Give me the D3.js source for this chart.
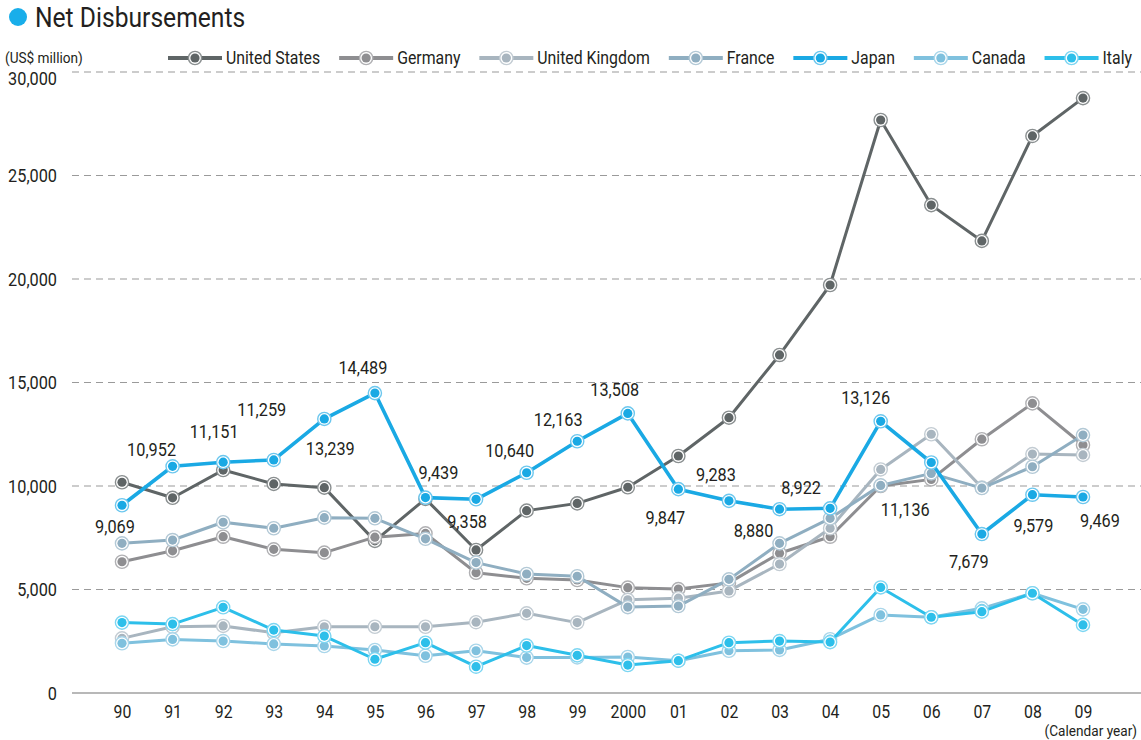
<!DOCTYPE html>
<html>
<head>
<meta charset="utf-8">
<script src="https://cdn.jsdelivr.net/npm/d3@7"></script>
<style>
  body { margin: 0; background: #fff; }
  svg text { font-family: Roboto, "Noto Sans", sans-serif; fill: #231f20; }
</style>
</head>
<body>
<div id="chart"></div>
<script>
// data (US$ million)
var years = ["90", "91", "92", "93", "94", "95", "96", "97", "98", "99", "2000", "01", "02", "03", "04", "05", "06", "07", "08", "09"];
var unitedStates = [10180, 9430, 10770, 10100, 9920, 7350, 9380, 6910, 8810, 9160, 9940, 11450, 13300, 16330, 19710, 27680, 23570, 21840, 26910, 28740];
var germany = [6340, 6870, 7550, 6940, 6780, 7530, 7710, 5810, 5540, 5460, 5090, 5020, 5320, 6750, 7550, 10000, 10320, 12260, 13990, 11980];
var unitedKingdom = [2640, 3200, 3240, 2910, 3200, 3200, 3200, 3420, 3850, 3400, 4500, 4580, 4930, 6230, 7960, 10800, 12500, 9920, 11540, 11500];
var france = [7230, 7390, 8250, 7960, 8470, 8440, 7450, 6300, 5750, 5640, 4150, 4200, 5490, 7230, 8440, 10030, 10610, 9900, 10930, 12460];
var japan = [9069, 10952, 11151, 11259, 13239, 14489, 9439, 9358, 10640, 12163, 13508, 9847, 9283, 8880, 8922, 13126, 11136, 7679, 9579, 9469];
var canada = [2400, 2590, 2510, 2370, 2270, 2080, 1800, 2040, 1710, 1720, 1740, 1560, 2040, 2080, 2600, 3770, 3660, 4090, 4820, 4040];
var italy = [3400, 3330, 4140, 3040, 2750, 1630, 2430, 1270, 2290, 1820, 1350, 1560, 2430, 2510, 2460, 5100, 3660, 3930, 4820, 3290];
var yTicks = [0, 5000, 10000, 15000, 20000, 25000, 30000];

var series = [
    { name: "United States", values: unitedStates, color: "#5f6566", ring: "#8a8f90" },
    { name: "Germany", values: germany, color: "#8e8e91", ring: "#b0b0b3" },
    { name: "United Kingdom", values: unitedKingdom, color: "#a8b5bf", ring: "#c3ccd3" },
    { name: "France", values: france, color: "#8faec1", ring: "#b3c9d6" },
    { name: "Canada", values: canada, color: "#7fc1de", ring: "#a9d6ea" },
    { name: "Italy", values: italy, color: "#2dbfea", ring: "#7dd6f2" },
    { name: "Japan", values: japan, color: "#1aa9e4", ring: "#6cc7ee" }
];
var legendOrder = ["United States", "Germany", "United Kingdom", "France", "Japan", "Canada", "Italy"];

// where each Japan label sits relative to its point
var labelDx = [-7, -21, -9, -12, 6, -12, 13, -9, -17, -19, -13, -13, -13, -26, -29, -15, -26, -13, 1, 17];
var labelDy = [21, -17, -31, -50, 30, -26, -25, 22, -22, -22, -24, 28, -26, 21, -21, -24, 47, 27, 31, 24];

var width = 1141;
var height = 740;
var squeeze = 0.88; // the reference uses a condensed face

var svg = d3.select('#chart')
    .append('svg')
    .attr('width', width)
    .attr('height', height);

var x = d3.scalePoint()
    .domain(years)
    .range([122, 1083]);
var y = d3.scaleLinear()
    .domain([0, 30000])
    .range([693, 72]);

// title
svg.append('circle')
    .attr('cx', 18).attr('cy', 17).attr('r', 9)
    .attr('fill', '#19aeea');
svg.append('text')
    .attr('x', 35).attr('y', 27)
    .style('font-size', '28px')
    .text('Net Disbursements');

svg.append('text')
    .attr('x', 5).attr('y', 58)
    .attr('dy', '0.35em')
    .style('font-size', '15.5px')
    .text('(US$ million)');

// grid
var grid = svg.append('g');
grid.selectAll('line')
    .data(yTicks.filter(d => d > 0))
    .enter()
    .append('line')
    .attr('x1', 72).attr('x2', width)
    .attr('y1', d => y(d)).attr('y2', d => y(d))
    .attr('stroke', '#9a9a9a')
    .attr('stroke-width', 1.2)
    .attr('stroke-dasharray', '7,5');

var yAxis = d3.axisLeft(y)
    .tickValues(yTicks)
    .tickSize(0)
    .tickPadding(0)
    .tickFormat(d3.format(','));
var gY = svg.append('g')
    .attr('transform', 'translate(57,0)')
    .call(yAxis);
gY.select('.domain').remove();
gY.selectAll('text')
    .style('font-size', '18.5px')
    .attr('dy', d => d == 30000 ? '0.7em' : '0.35em');

var xAxis = d3.axisBottom(x).tickSize(0).tickPadding(0);
var gX = svg.append('g')
    .attr('transform', 'translate(0,' + y(0) + ')')
    .call(xAxis);
gX.select('.domain').remove();
gX.selectAll('text')
    .style('font-size', '18px')
    .attr('y', 25)
    .attr('dy', 0);
svg.append('line')
    .attr('x1', 72).attr('x2', width)
    .attr('y1', y(0)).attr('y2', y(0))
    .attr('stroke', '#a0a0a0')
    .attr('stroke-width', 1.5);

svg.append('text')
    .attr('x', 1137).attr('y', 736)
    .attr('text-anchor', 'end')
    .style('font-size', '15.5px')
    .text('(Calendar year)');

// lines + markers
var line = d3.line()
    .x((d, i) => x(years[i]))
    .y(d => y(d));

function marker(g, cx, cy, s) {
    g.append('circle')
        .attr('cx', cx).attr('cy', cy).attr('r', 6.6)
        .attr('fill', '#fff')
        .attr('stroke', s.ring)
        .attr('stroke-width', 1.4);
    g.append('circle')
        .attr('cx', cx).attr('cy', cy).attr('r', 4.6)
        .attr('fill', s.color);
}

series.forEach(function (s) {
    var g = svg.append('g');
    g.append('path')
        .datum(s.values)
        .attr('d', line)
        .attr('fill', 'none')
        .attr('stroke', s.color)
        .attr('stroke-width', s.name == 'Japan' ? 3.6 : 3)
        .attr('stroke-linejoin', 'round');
    s.values.forEach(function (v, i) {
        marker(g, x(years[i]), y(v), s);
    });
});

// Japan value labels
svg.append('g')
    .selectAll('text')
    .data(japan)
    .enter()
    .append('text')
    .attr('x', (d, i) => x(years[i]) + labelDx[i])
    .attr('y', (d, i) => y(d) + labelDy[i])
    .attr('dy', '0.35em')
    .attr('text-anchor', 'middle')
    .style('font-size', '18.5px')
    .text(d => d3.format(',')(d));

// legend
var legend = svg.append('g');
var items = legendOrder.map(n => series.find(s => s.name == n));
var widths = [];
items.forEach(function (s) {
    var t = legend.append('text')
        .attr('y', 58)
        .attr('dy', '0.35em')
        .style('font-size', '18px')
        .text(s.name);
    widths.push(54 + 4 + t.node().getComputedTextLength() * squeeze);
});
var gap = (1132 - 168 - d3.sum(widths)) / (items.length - 1);
var lx = 168;
legend.selectAll('text').each(function (d, i) {
    var s = items[i];
    legend.append('line')
        .attr('x1', lx).attr('x2', lx + 54)
        .attr('y1', 58).attr('y2', 58)
        .attr('stroke', s.color)
        .attr('stroke-width', 4);
    marker(legend, lx + 27, 58, s);
    d3.select(this).attr('x', lx + 58);
    lx += widths[i] + gap;
});

// narrow every text round its anchor
svg.selectAll('text').each(function () {
    var t = d3.select(this);
    var x0 = +t.attr('x') || 0;
    t.attr('transform', 'translate(' + x0 + ',0) scale(' + squeeze + ',1) translate(' + (-x0) + ',0)');
});
</script>
</body>
</html>
